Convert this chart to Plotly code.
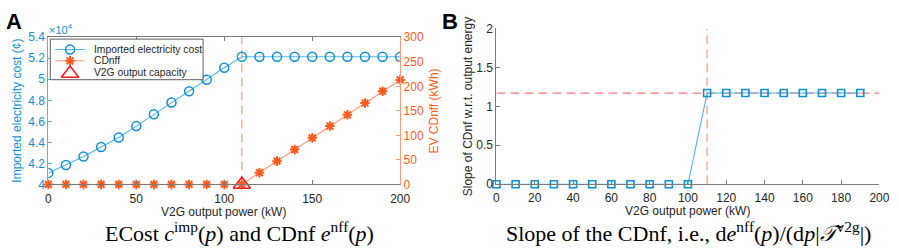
import plotly.graph_objects as go

# ---------------- data ----------------
power_kw = [0, 10, 20, 30, 40, 50, 60, 70, 80, 90, 100, 110, 120, 130, 140, 150, 160, 170, 180, 190, 200]
imported_cost = [41100, 41850, 42660, 43560, 44460, 45550, 46670, 47800, 48860, 49960, 51100, 52140,
                 52140, 52140, 52140, 52140, 52140, 52140, 52140, 52140, 52140]
cdnff_kwh = [0, 0, 0, 0, 0, 0, 0, 0, 0, 0, 0, 0, 24, 47.5, 71, 95, 119, 142, 166, 190, 213]
v2g_capacity = 110
capacity_cdnff = 0

slope_power = [0, 10, 20, 30, 40, 50, 60, 70, 80, 90, 100, 110, 120, 130, 140, 150, 160, 170, 180, 190]
slope_vals = [0, 0, 0, 0, 0, 0, 0, 0, 0, 0, 0, 1.17, 1.17, 1.17, 1.17, 1.17, 1.17, 1.17, 1.17, 1.17]
slope_level = 1.17

cost_ticks = [40000, 42000, 44000, 46000, 48000, 50000, 52000, 54000]
cost_ticktext = ["4", "4.2", "4.4", "4.6", "4.8", "5", "5.2", "5.4"]
cdnff_ticks = [0, 50, 100, 150, 200, 250, 300]
xa_ticks = [0, 50, 100, 150, 200]
xb_ticks = [0, 20, 40, 60, 80, 100, 120, 140, 160, 180, 200]
yb_ticks = [0, 0.5, 1, 1.5, 2]
yb_ticktext = ["0", "0.5", "1", "1.5", "2"]

legend_names = ["Imported electricity cost", "CDnff", "V2G output capacity"]

# ---------------- styles ----------------
BLUE = "#0f8fd4"
BLUE_L = "#55b6e6"
ORANGE = "#ff5a1e"
ORANGE_L = "#ff9a78"
RED = "#ff1a1a"
DARK = "#262626"
AXC = "#7a7a7a"
SANS = "Liberation Sans, Arial, sans-serif"
SERIF = "Liberation Serif, Times New Roman, serif"
W, H = 899, 250

circle_marker = dict(symbol="circle-open", size=9, color=BLUE, line=dict(width=1.5, color=BLUE))
star_marker = dict(symbol="asterisk-open", size=8, color=ORANGE, line=dict(width=2, color=ORANGE))
tri_marker = dict(symbol="triangle-up-open", size=15, color=RED, line=dict(width=1.6, color=RED))

fig = go.Figure()

# Panel A
fig.add_trace(go.Scatter(
    x=[v2g_capacity, v2g_capacity], y=[cost_ticks[0], cost_ticks[-1]], mode="lines",
    line=dict(color=ORANGE_L, width=1.2, dash="9px,5px"),
    xaxis="x", yaxis="y", hoverinfo="skip"))
fig.add_trace(go.Scatter(
    x=power_kw, y=imported_cost, mode="lines+markers", name=legend_names[0],
    line=dict(color=BLUE_L, width=1.1), marker=circle_marker, xaxis="x", yaxis="y"))
fig.add_trace(go.Scatter(
    x=power_kw, y=cdnff_kwh, mode="lines+markers", name=legend_names[1],
    line=dict(color=ORANGE_L, width=1.1), marker=star_marker, xaxis="x", yaxis="y2",
    cliponaxis=False))
fig.add_trace(go.Scatter(
    x=[v2g_capacity], y=[capacity_cdnff], mode="markers", name=legend_names[2],
    marker=tri_marker, xaxis="x", yaxis="y2", cliponaxis=False))

# Panel B
fig.add_trace(go.Scatter(
    x=[xb_ticks[0], xb_ticks[-1]], y=[slope_level, slope_level], mode="lines",
    line=dict(color="#ff7a7a", width=1.2, dash="9px,5px"),
    xaxis="x2", yaxis="y3", hoverinfo="skip", cliponaxis=False))
fig.add_trace(go.Scatter(
    x=[v2g_capacity, v2g_capacity], y=[yb_ticks[0], yb_ticks[-1]], mode="lines",
    line=dict(color=ORANGE_L, width=1.2, dash="9px,5px"),
    xaxis="x2", yaxis="y3", hoverinfo="skip"))
fig.add_trace(go.Scatter(
    x=slope_power, y=slope_vals, mode="lines+markers",
    line=dict(color=BLUE_L, width=1.1),
    marker=dict(symbol="square-open", size=7, color=BLUE, line=dict(width=1.6, color=BLUE)),
    xaxis="x2", yaxis="y3", cliponaxis=False))

# Manual legend (hidden axes measured in pixels inside the legend box)
LX0, LX1, LY0, LY1 = 48, 203, 34, 77
rows = [45, 57, 69.5]
fig.add_trace(go.Scatter(x=[53, 83], y=[rows[0], rows[0]], mode="lines",
                         line=dict(color=BLUE_L, width=1.1), xaxis="x3", yaxis="y4", hoverinfo="skip"))
fig.add_trace(go.Scatter(x=[68], y=[rows[0]], mode="markers", marker=circle_marker,
                         xaxis="x3", yaxis="y4", hoverinfo="skip"))
fig.add_trace(go.Scatter(x=[53, 83], y=[rows[1], rows[1]], mode="lines",
                         line=dict(color=ORANGE_L, width=1.1), xaxis="x3", yaxis="y4", hoverinfo="skip"))
fig.add_trace(go.Scatter(x=[68], y=[rows[1]], mode="markers", marker=star_marker,
                         xaxis="x3", yaxis="y4", hoverinfo="skip"))
fig.add_trace(go.Scatter(x=[68], y=[rows[2] + 1], mode="markers", marker=tri_marker,
                         xaxis="x3", yaxis="y4", hoverinfo="skip"))

tickfont = dict(family=SANS, size=12, color=DARK)

fig.update_layout(
    width=W, height=H, margin=dict(l=0, r=0, t=0, b=0),
    paper_bgcolor="white", plot_bgcolor="white", showlegend=False,
    font=dict(family=SANS, size=12, color=DARK),
    xaxis=dict(domain=[46 / W, 403 / W], range=[0, 200], tickvals=xa_ticks,
               showline=True, linecolor=AXC, linewidth=1, mirror="ticks",
               ticks="inside", ticklen=4, tickcolor=AXC, showgrid=False, zeroline=False,
               tickfont=tickfont, anchor="y", ticklabelstandoff=3),
    yaxis=dict(domain=[1 - 188 / H, 1 - 32 / H], range=[cost_ticks[0], cost_ticks[-1]],
               tickvals=cost_ticks, ticktext=cost_ticktext,
               showline=True, linecolor=BLUE_L, linewidth=1, ticks="inside", ticklen=4,
               tickcolor=BLUE_L, showgrid=False, zeroline=False,
               tickfont=dict(family=SANS, size=12, color=BLUE), anchor="x"),
    yaxis2=dict(overlaying="y", side="right", anchor="x", range=[0, 300], tickvals=cdnff_ticks,
                showline=True, linecolor=ORANGE_L, linewidth=1, ticks="inside", ticklen=4,
                tickcolor=ORANGE_L, showgrid=False, zeroline=False,
                tickfont=dict(family=SANS, size=12, color=ORANGE)),
    xaxis2=dict(domain=[500.7 / W, 889.3 / W], range=[0, 200], tickvals=xb_ticks,
                showline=True, linecolor=AXC, linewidth=1, ticks="inside", ticklen=4,
                tickcolor=AXC, showgrid=False, zeroline=False, tickfont=tickfont, anchor="y3",
                ticklabelstandoff=2),
    yaxis3=dict(domain=[1 - 187.7 / H, 1 - 22.7 / H], range=[0, 2], tickvals=yb_ticks,
                ticktext=yb_ticktext,
                showline=True, linecolor=AXC, linewidth=1, ticks="inside", ticklen=4,
                tickcolor=AXC, showgrid=False, zeroline=False, tickfont=tickfont, anchor="x2"),
    xaxis3=dict(domain=[LX0 / W, LX1 / W], range=[LX0, LX1], visible=False, anchor="y4",
                fixedrange=True),
    yaxis4=dict(domain=[1 - LY1 / H, 1 - LY0 / H], range=[LY1, LY0], visible=False, anchor="x3",
                fixedrange=True),
)

shapes = [dict(type="rect", xref="paper", yref="paper", x0=LX0 / W, x1=LX1 / W,
               y0=1 - LY1 / H, y1=1 - LY0 / H, line=dict(color="#333333", width=0.8),
               fillcolor="rgba(0,0,0,0)", layer="above")]

ann = [
    dict(text="<b>A</b>", x=1 / W, y=1 - 0 / H, xanchor="left", yanchor="top",
         font=dict(family=SANS, size=22, color="black")),
    dict(text="<b>B</b>", x=443 / W, y=1 - 0 / H, xanchor="left", yanchor="top",
         font=dict(family=SANS, size=22, color="black")),
    dict(text="×10<sup>4</sup>", x=45 / W, y=1 - 33 / H, xanchor="left", yanchor="bottom",
         font=dict(family=SANS, size=11, color=BLUE)),
    dict(text="Imported electricity cost (¢)", x=14 / W, y=1 - 110 / H, textangle=-90,
         xanchor="center", yanchor="middle", font=dict(family=SANS, size=12, color=BLUE)),
    dict(text="EV CDnff (kWh)", x=437 / W, y=1 - 110 / H, textangle=-90,
         xanchor="center", yanchor="middle", font=dict(family=SANS, size=12, color=ORANGE)),
    dict(text="V2G output power (kW)", x=224 / W, y=1 - 217 / H,
         xanchor="center", yanchor="middle", font=dict(family=SANS, size=12, color=DARK)),
    dict(text="V2G output power (kW)", x=695 / W, y=1 - 216 / H,
         xanchor="center", yanchor="middle", font=dict(family=SANS, size=12, color=DARK)),
    dict(text="Slope of CDnf w.r.t. output energy", x=472 / W, y=1 - 106 / H, textangle=-90,
         xanchor="center", yanchor="middle", font=dict(family=SANS, size=12, color=DARK)),
    dict(text="ECost <i>c</i><sup>imp</sup>(<i>p</i>) and CDnf <i>e</i><sup>nff</sup>(<i>p</i>)",
         x=240 / W, y=1 - 238 / H, xanchor="center", yanchor="middle",
         font=dict(family=SERIF, size=22, color="black")),
    dict(text="Slope of the CDnf, i.e., d<i>e</i><sup>nff</sup>(<i>p</i>)/(d<i>p</i>|<i>𝒯</i><sup>v2g</sup>|)",
         x=696 / W, y=1 - 238 / H, xanchor="center", yanchor="middle",
         font=dict(family=SERIF, size=22, color="black")),
]
for i, name in enumerate(legend_names):
    ann.append(dict(text=name, x=90 / W, y=1 - rows[i] / H, xanchor="left", yanchor="middle",
                    font=dict(family=SANS, size=10.3, color=DARK)))
for a in ann:
    a.update(xref="paper", yref="paper", showarrow=False)
fig.update_layout(annotations=ann, shapes=shapes)

fig.write_html("out.html", config={"displayModeBar": False},
               post_script="document.body.style.margin='0px';")
